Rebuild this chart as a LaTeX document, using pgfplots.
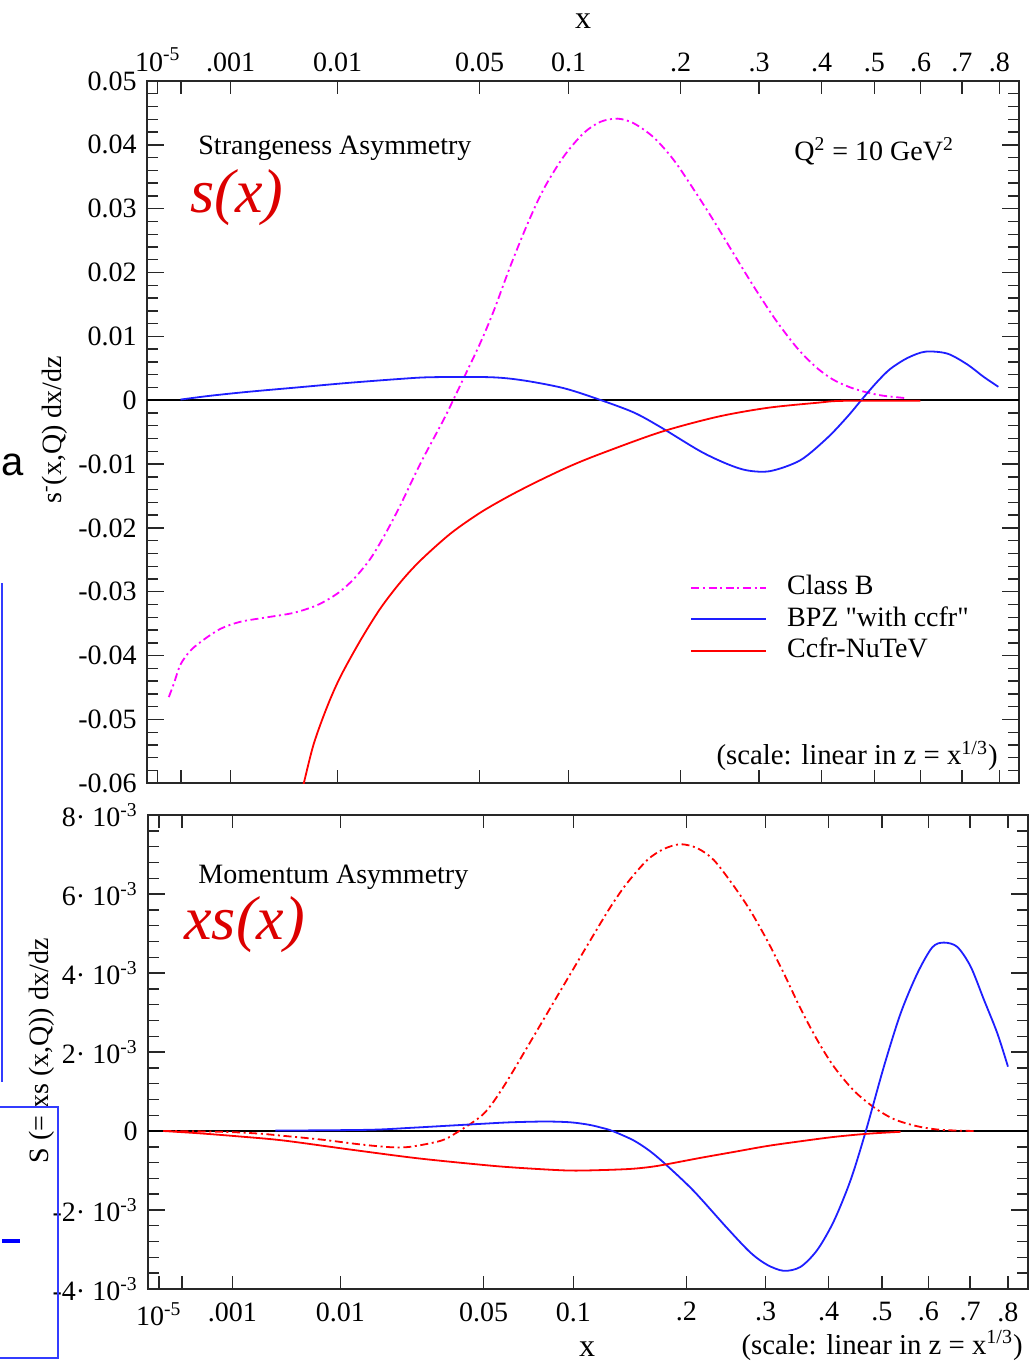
\documentclass[border=0pt]{standalone}
\usepackage{fontspec}
\setmainfont{Liberation Serif}
\setsansfont{Liberation Sans}
\usepackage{pgfplots}
\pgfplotsset{compat=1.18}

\definecolor{cB}{RGB}{30,30,255}
\definecolor{cR}{RGB}{255,0,0}
\definecolor{cM}{RGB}{255,0,255}
\definecolor{txtred}{RGB}{220,0,0}
\definecolor{frm}{RGB}{40,40,40}
\definecolor{slideblue}{RGB}{50,60,255}

\newcommand\lbl{\fontsize{14}{16}\selectfont}

\pgfplotsset{
  panel/.style={
    scale only axis,
    anchor=south west,
    xmin=0.01, xmax=0.95,
    axis line style={frm, line width=1pt},
    tick align=inside,
    tick style={frm, line width=0.7pt},
    major tick length=8.5pt,
    minor tick length=5.5pt,
    scaled ticks=false,
    xtick={0.021544,0.046416,0.1,0.215443,0.368403,0.464159,0.584804,0.669433,0.736806,0.793701,0.843433,0.887904,0.928318},
    xticklabels={10\textsuperscript{-5},,.001,0.01,0.05,0.1,.2,.3,.4,.5,.6,.7,.8},
    xtick style={/pgfplots/major tick length=6.5pt},
    minor y tick num=4,
    ticklabel style={font=\lbl, inner sep=0pt},
    yticklabel style={xshift=-5pt},
  },
  dashdot/.style={line width=0.9pt, dash pattern=on 4pt off 1.8pt on 1pt off 1.8pt},
  solidc/.style={line width=0.9pt},
}

\begin{document}
\begin{tikzpicture}
\path[use as bounding box] (0,0) rectangle (516.5pt,681.5pt);

% upper panel: s(x)
\begin{axis}[panel,
  at={(73.5pt,289.85pt)}, width=436.25pt, height=351.15pt,
  ymin=-0.06, ymax=0.05,
  ytick={-0.06,-0.05,-0.04,-0.03,-0.02,-0.01,0,0.01,0.02,0.03,0.04,0.05},
  yticklabels={-0.06,-0.05,-0.04,-0.03,-0.02,-0.01,0,0.01,0.02,0.03,0.04,0.05},
  xticklabel pos=right,
  xticklabel style={yshift=4.5pt},
  legend style={at={(0.6224,0.2975)}, anchor=north west, draw=none, fill=none,
    inner sep=0pt, row sep=2.75pt, column sep=10pt, font=\lbl,
    nodes={inner sep=0pt, text height=10pt, text depth=3pt}},
  legend cell align=left,
  legend image code/.code={\draw[#1] (0pt,0pt) -- (37.5pt,0pt);},
]
\addplot[black, line width=0.8pt, forget plot] coordinates {(0.01,0) (0.95,0)};
\addplot[cM, dashdot, smooth] coordinates {
(0.0335,-0.0465) (0.0389,-0.0444) (0.0461,-0.0414) (0.0569,-0.0392) (0.0712,-0.0375)
(0.0892,-0.0358) (0.1107,-0.0347) (0.1395,-0.0340) (0.1681,-0.0333) (0.1933,-0.0321)
(0.2149,-0.0303) (0.2328,-0.0280) (0.2508,-0.0248) (0.2669,-0.0209) (0.2831,-0.0164)
(0.3046,-0.0099) (0.3294,-0.0031) (0.3402,0.0001) (0.3510,0.0034) (0.3692,0.0090)
(0.3836,0.0140) (0.4015,0.0210) (0.4199,0.0276) (0.4371,0.0330) (0.4586,0.0381)
(0.4802,0.0418) (0.4985,0.0436) (0.5168,0.0441) (0.5340,0.0434) (0.5556,0.0412)
(0.5771,0.0377) (0.5986,0.0331) (0.6202,0.0282) (0.6418,0.0230) (0.6633,0.0179)
(0.6848,0.0131) (0.6999,0.0101) (0.7139,0.0076) (0.7322,0.0050) (0.7495,0.0032)
(0.7678,0.0020) (0.7861,0.0012) (0.8034,0.0007) (0.8292,0.0003)};
\addplot[cB, solidc, smooth] coordinates {
(0.0461,0.0001) (0.0784,0.0007) (0.1179,0.0013) (0.1718,0.0020) (0.2257,0.0027)
(0.2795,0.0033) (0.3154,0.0036) (0.3800,0.0036) (0.4156,0.0031) (0.4586,0.0019)
(0.4953,0.0002) (0.5341,-0.0019) (0.5631,-0.0042) (0.6062,-0.0080) (0.6353,-0.0100)
(0.6568,-0.0110) (0.6816,-0.0111) (0.7139,-0.0094) (0.7430,-0.0059) (0.7645,-0.0026)
(0.7818,0.0004) (0.7968,0.0029) (0.8108,0.0049) (0.8291,0.0066) (0.8485,0.0076)
(0.8722,0.0073) (0.8938,0.0056) (0.9110,0.0037) (0.9272,0.0021)};
\addplot[cR, solidc, smooth] coordinates {
(0.1754,-0.0620) (0.1789,-0.0600) (0.1897,-0.0538) (0.2041,-0.0480) (0.2184,-0.0433)
(0.2400,-0.0376) (0.2615,-0.0326) (0.2831,-0.0285) (0.3046,-0.0251) (0.3369,-0.0209)
(0.3692,-0.0176) (0.4015,-0.0149) (0.4339,-0.0125) (0.4662,-0.0103) (0.4985,-0.0084)
(0.5631,-0.0050) (0.6245,-0.0026) (0.6784,-0.0012) (0.7322,-0.0004) (0.7602,-0.0001)
(0.8432,-0.0001)};
\legend{Class B, BPZ \textquotedbl with ccfr\textquotedbl, Ccfr-NuTeV}
\end{axis}

% lower panel: x s(x)
\begin{axis}[panel,
  at={(74pt,37pt)}, width=440.15pt, height=237pt,
  ymin=-0.004, ymax=0.008,
  ytick={-0.004,-0.002,0,0.002,0.004,0.006,0.008},
  yticklabels={{-4· 10\textsuperscript{-3}},{-2· 10\textsuperscript{-3}},0,{2· 10\textsuperscript{-3}},{4· 10\textsuperscript{-3}},{6· 10\textsuperscript{-3}},{8· 10\textsuperscript{-3}}},
  xticklabel pos=left,
  xticklabel style={yshift=-6.5pt},
]
\addplot[black, line width=0.8pt] coordinates {(0.01,0) (0.95,0)};
\addplot[cR, dashdot, smooth] coordinates {
(0.0263,0) (0.0658,-0.00001) (0.1011,-0.00003) (0.1310,-0.00007) (0.1534,-0.00012)
(0.1962,-0.00022) (0.2368,-0.00034) (0.2688,-0.00041) (0.2902,-0.00040) (0.3222,-0.00025)
(0.3383,-0.00006) (0.3682,0.00043) (0.3896,0.00112) (0.4184,0.00226) (0.4504,0.00355)
(0.4932,0.00526) (0.5074,0.00580) (0.5217,0.00628) (0.5431,0.00686) (0.5608,0.00714)
(0.5786,0.00726) (0.5965,0.00716) (0.6142,0.00686) (0.6356,0.00620) (0.6534,0.00557)
(0.6713,0.00482) (0.6890,0.00399) (0.7068,0.00310) (0.7247,0.00230) (0.7424,0.00163)
(0.7638,0.00102) (0.7851,0.00060) (0.8065,0.00030) (0.8315,0.00012) (0.8564,0.00003)
(0.8920,0.0)};
\addplot[cB, solidc, smooth] coordinates {
(0.1459,0.00001) (0.2453,0.00003) (0.2902,0.00008) (0.3276,0.00013) (0.3650,0.00018)
(0.3970,0.00022) (0.4344,0.00024) (0.4611,0.00022) (0.4803,0.00016) (0.4932,0.00009)
(0.5060,0.00000) (0.5287,-0.00024) (0.5466,-0.00052) (0.5644,-0.00088) (0.5928,-0.00152)
(0.6285,-0.00246) (0.6534,-0.00308) (0.6713,-0.00339) (0.6890,-0.00354) (0.7068,-0.00344)
(0.7247,-0.00301) (0.7424,-0.00228) (0.7603,-0.00124) (0.7763,-0.00002) (0.7958,0.00163)
(0.8137,0.00298) (0.8315,0.00399) (0.8475,0.00465) (0.8599,0.00477) (0.8742,0.00466)
(0.8885,0.00416) (0.9027,0.00332) (0.9170,0.00247) (0.9283,0.00163)};
\addplot[cR, solidc, smooth] coordinates {
(0.0263,0) (0.0658,-0.00006) (0.1085,-0.00014) (0.1545,-0.00024) (0.2261,-0.00047)
(0.2976,-0.00069) (0.3682,-0.00086) (0.4045,-0.00093) (0.4579,-0.00100) (0.4932,-0.00099)
(0.5252,-0.00096) (0.5465,-0.00091) (0.5644,-0.00084) (0.6000,-0.00068) (0.6356,-0.00053)
(0.6712,-0.00038) (0.7068,-0.00026) (0.7424,-0.00015) (0.7781,-0.00007) (0.8137,-0.00002)};
\end{axis}

% texts, in pixel coordinates of the reference (y downwards)
\begin{scope}[x=0.5pt, y=-0.5pt, shift={(0pt,681.5pt)}, every node/.style={inner sep=0pt}]
\node[anchor=base, font=\fontsize{16}{18}\selectfont] at (583,28.5) {x};
\node[anchor=base, font=\fontsize{16}{18}\selectfont] at (587,1357) {x};
\node[anchor=base west, font=\lbl] at (198,154.5) {Strangeness Asymmetry};
\node[anchor=base west, font=\lbl] at (198,884) {Momentum Asymmetry};
\node[anchor=base west, font=\lbl] at (794,161) {Q\textsuperscript{2} = 10 GeV\textsuperscript{2}};
\node[anchor=base east, font=\fontsize{14.4}{16}\selectfont] at (998,765) {(scale: linear in z = x\textsuperscript{1/3})};
\node[anchor=base east, font=\fontsize{14.4}{16}\selectfont] at (1023,1354) {(scale: linear in z = x\textsuperscript{1/3})};
\node[anchor=base west, font=\fontsize{31}{33}\selectfont\itshape, text=txtred] at (190,213) {s(x)};
\node[anchor=base west, font=\fontsize{31}{33}\selectfont\itshape, text=txtred] at (184,940) {xs(x)};
\node[rotate=90, font=\lbl] at (55,430) {s\textsuperscript{-}(x,Q) dx/dz};
\node[rotate=90, font=\lbl] at (42,1051) {S (= xs (x,Q)) dx/dz};
% pieces of the slide around the chart
\node[anchor=base west, font=\fontsize{20}{22}\selectfont\sffamily] at (1,476) {a};
\draw[slideblue, line width=1pt] (1.5,583) -- (1.5,1082);
\draw[slideblue, line width=0.9pt] (-10,1107) rectangle (58,1358);
\draw[blue, line width=2pt] (2,1241) -- (20,1241);
\end{scope}
\end{tikzpicture}
\end{document}
